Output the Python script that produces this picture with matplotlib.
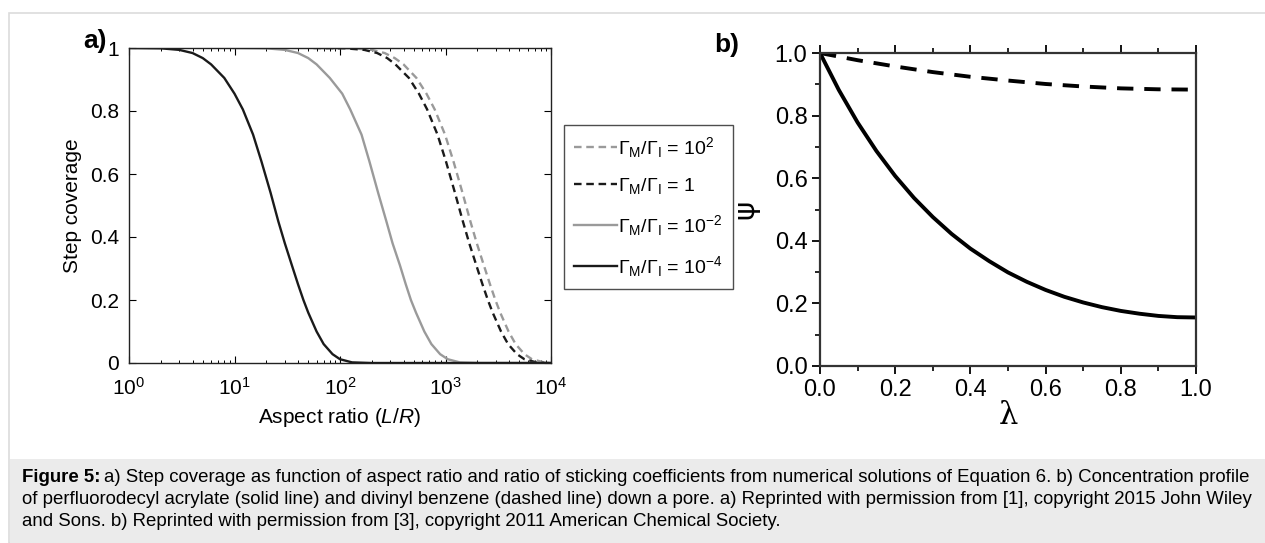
import matplotlib
matplotlib.use("Agg")
import matplotlib.pyplot as plt
from matplotlib.patches import Rectangle
from matplotlib.ticker import MultipleLocator, FixedLocator, FixedFormatter, LogLocator, NullFormatter

plt.rcParams['font.family'] = ['Liberation Sans', 'DejaVu Sans']
plt.rcParams['mathtext.fontset'] = 'custom'
plt.rcParams['mathtext.rm'] = 'Liberation Sans'
plt.rcParams['mathtext.it'] = 'Liberation Sans:italic'

# --- panel a: step coverage vs aspect ratio ---
cov_y = [1.0, 0.999, 0.994, 0.984, 0.968, 0.948, 0.905, 0.855, 0.805, 0.725, 0.64, 0.54,
         0.45, 0.38, 0.31, 0.25, 0.20, 0.16, 0.10, 0.06, 0.028, 0.012, 0.002, 0.0, 0.0]
x_m4 = [1, 2, 3, 4, 5, 6, 8, 10, 12, 15, 18, 22, 26, 30, 35, 40, 45, 50, 60, 70, 85, 100,
        130, 200, 10000]
x_m2 = [10, 20, 30, 40, 50, 60, 80, 105, 125, 160, 190, 230, 275, 315, 370, 420, 470, 525,
        630, 735, 890, 1050, 1365, 2100, 10000]
x_0 = [56, 112, 170, 225, 280, 335, 450, 560, 670, 840, 1010, 1230, 1460, 1680, 1960, 2240,
       2520, 2800, 3360, 3920, 4760, 5600, 7300, 9000, 10000]
x_p2 = [66, 132, 200, 265, 330, 400, 530, 660, 790, 990, 1190, 1450, 1720, 1980, 2310, 2640,
        2970, 3300, 3960, 4620, 5600, 6600, 8600, 9500, 10000]
labels_a = [r'$\Gamma_\mathrm{M}/\Gamma_\mathrm{I}$ = 10$^2$',
            r'$\Gamma_\mathrm{M}/\Gamma_\mathrm{I}$ = 1',
            r'$\Gamma_\mathrm{M}/\Gamma_\mathrm{I}$ = 10$^{-2}$',
            r'$\Gamma_\mathrm{M}/\Gamma_\mathrm{I}$ = 10$^{-4}$']

# --- panel b: concentration profile down a pore ---
lam = [0.0, 0.05, 0.1, 0.15, 0.2, 0.25, 0.3, 0.35, 0.4, 0.45, 0.5, 0.55, 0.6, 0.65, 0.7,
       0.75, 0.8, 0.85, 0.9, 0.95, 1.0]
psi_solid = [1.0, 0.882, 0.778, 0.687, 0.607, 0.537, 0.476, 0.422, 0.375, 0.335, 0.299,
             0.269, 0.243, 0.221, 0.203, 0.188, 0.176, 0.167, 0.160, 0.156, 0.155]
lam_d = [0.0, 0.1, 0.2, 0.3, 0.4, 0.5, 0.6, 0.7, 0.8, 0.9, 1.0]
psi_dash = [1.0, 0.977, 0.957, 0.939, 0.924, 0.912, 0.901, 0.893, 0.887, 0.884, 0.883]

W, H = 1265, 543
fig = plt.figure(figsize=(W / 100, H / 100), dpi=100)

# page frame and caption box
fig.patches.append(Rectangle((9 / W, 0), 1.2, 1 - 13 / H, transform=fig.transFigure,
                             facecolor='white', edgecolor='#dcdcdc', lw=1.2, zorder=-5))
fig.patches.append(Rectangle((9.5 / W, 0), 1.2, (H - 459) / H, transform=fig.transFigure,
                             facecolor='#ebebeb', edgecolor='none', zorder=-4))

gray = '#9a9a9a'
ax = fig.add_axes([129 / W, (H - 363) / H, 422 / W, 315 / H])
ax.plot(x_p2, cov_y, color=gray, lw=1.7, ls=(0, (3.2, 2.0)), label=labels_a[0])
ax.plot(x_0, cov_y, color='#1a1a1a', lw=1.7, ls=(0, (3.2, 2.0)), label=labels_a[1])
ax.plot(x_m2, cov_y, color=gray, lw=1.7, label=labels_a[2])
ax.plot(x_m4, cov_y, color='#1a1a1a', lw=1.7, label=labels_a[3])
ax.set_xscale('log')
ax.set_xlim(1, 1e4)
ax.set_ylim(0, 1)
ax.set_xticks([1, 10, 100, 1000, 10000])
ax.set_xticklabels([r'10$^0$', r'10$^1$', r'10$^2$', r'10$^3$', r'10$^4$'])
ax.xaxis.set_minor_locator(LogLocator(base=10, subs=range(2, 10)))
ax.xaxis.set_minor_formatter(NullFormatter())
ax.yaxis.set_major_locator(FixedLocator([0, 0.2, 0.4, 0.6, 0.8, 1.0]))
ax.yaxis.set_major_formatter(FixedFormatter(['0', '0.2', '0.4', '0.6', '0.8', '1']))
ax.tick_params(which='both', direction='in', top=True, right=True, labelsize=15)
ax.tick_params(axis='x', pad=10)
ax.tick_params(axis='y', pad=7)
ax.tick_params(which='major', length=5, width=0.8)
ax.tick_params(which='minor', length=2.5, width=0.7)
for s in ax.spines.values():
    s.set_linewidth(1.0)
    s.set_color('#222222')
ax.set_xlabel('Aspect ratio ($\\mathit{L}$/$\\mathit{R}$)', fontsize=15, labelpad=5)
ax.set_ylabel('Step coverage', fontsize=15, labelpad=6)
fig.text(95 / W, 1 - 41 / H, 'a)', fontsize=19, fontweight='bold', ha='center', va='center')

leg = fig.legend(*ax.get_legend_handles_labels(), loc='upper left',
                 bbox_to_anchor=(564 / W, 1 - 125 / H), fontsize=14, frameon=True,
                 fancybox=False, edgecolor='#222222', handlelength=2.2, handletextpad=0.1,
                 labelspacing=0.85, borderpad=0.5, borderaxespad=0)
leg.get_frame().set_linewidth(1.0)

# panel b
bx = fig.add_axes([820 / W, (H - 366) / H, 376 / W, 313 / H])
bx.plot(lam_d, psi_dash, color='black', lw=2.8, ls=(0, (4.2, 2.8)))
bx.plot(lam, psi_solid, color='black', lw=2.8)
bx.set_xlim(0, 1)
bx.set_ylim(0, 1)
bx.xaxis.set_major_locator(MultipleLocator(0.2))
bx.xaxis.set_minor_locator(MultipleLocator(0.1))
bx.yaxis.set_major_locator(MultipleLocator(0.2))
bx.yaxis.set_minor_locator(MultipleLocator(0.1))
bx.xaxis.set_major_formatter(plt.FuncFormatter(lambda v, p: '%.1f' % v))
bx.yaxis.set_major_formatter(plt.FuncFormatter(lambda v, p: '%.1f' % v))
bx.tick_params(which='both', direction='out', top=True, right=False, labelsize=17, pad=3)
bx.tick_params(which='major', length=6, width=1.3)
bx.tick_params(which='minor', length=3.5, width=1.2)
for s in bx.spines.values():
    s.set_linewidth(1.6)
    s.set_color('#333333')
bx.set_xlabel('λ', fontsize=22, family='DejaVu Serif', labelpad=0)
bx.set_ylabel('ψ', fontsize=21, family='DejaVu Sans', labelpad=11)
fig.text(727 / W, 1 - 45 / H, 'b)', fontsize=19, fontweight='bold', ha='center', va='center')

# caption
cap_lines = [
    'a) Step coverage as function of aspect ratio and ratio of sticking coefficients from numerical solutions of Equation 6. b) Concentration profile',
    'of perfluorodecyl acrylate (solid line) and divinyl benzene (dashed line) down a pore. a) Reprinted with permission from [1], copyright 2015 John Wiley',
    'and Sons. b) Reprinted with permission from [3], copyright 2011 American Chemical Society.',
]
cap_size = 13.4
renderer = fig.canvas.get_renderer()
t0 = fig.text(22 / W, 1 - 478 / H, 'Figure 5:', fontsize=cap_size, fontweight='bold',
              va='center', ha='left')
w0 = t0.get_window_extent(renderer).width
fig.text((22 + w0 + 4) / W, 1 - 478 / H, cap_lines[0], fontsize=cap_size,
         va='center', ha='left')
fig.text(22 / W, 1 - 500 / H, cap_lines[1], fontsize=cap_size, va='center', ha='left')
fig.text(22 / W, 1 - 521 / H, cap_lines[2], fontsize=cap_size, va='center', ha='left')

fig.savefig('out.png', dpi=100)
